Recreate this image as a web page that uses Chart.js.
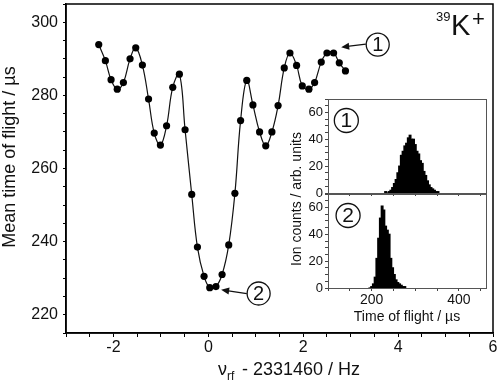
<!DOCTYPE html>
<html>
<head>
<meta charset="utf-8">
<script src="https://cdn.jsdelivr.net/npm/chart.js@4.4.0/dist/chart.umd.min.js"></script>
<style>
  html, body { margin: 0; padding: 0; background: #fff; }
  #wrap { position: relative; width: 499px; height: 382px; overflow: hidden; }
  canvas { position: absolute; }
</style>
</head>
<body>
<div id="wrap">
  <canvas id="main" width="499" height="382" style="left:0;top:0;width:499px;height:382px"></canvas>
  <canvas id="inset1" width="202" height="104" style="left:290px;top:95px;width:202px;height:104px"></canvas>
  <canvas id="inset2" width="202" height="140" style="left:290px;top:190px;width:202px;height:140px"></canvas>
</div>
<script>
// main scan: rf detuning (Hz) vs mean time of flight (us)
const freqOffset = [-2.31, -2.17, -2.05, -1.92, -1.79, -1.65, -1.53, -1.39, -1.26, -1.14,
  -1.01, -0.88, -0.75, -0.61, -0.49, -0.35, -0.23, -0.09, 0.03, 0.16,
  0.29, 0.43, 0.56, 0.68, 0.81, 0.94, 1.08, 1.21, 1.34, 1.47,
  1.60, 1.72, 1.86, 1.98, 2.12, 2.24, 2.38, 2.50, 2.64, 2.76, 2.89];
const meanTof = [293.9, 289.5, 284.3, 281.7, 283.5, 290.0, 293.0, 288.3, 279.0, 269.7,
  266.4, 271.7, 282.2, 285.8, 270.6, 252.9, 238.5, 230.5, 227.4, 227.7,
  231.0, 239.1, 253.2, 273.1, 284.1, 277.4, 270.0, 266.2, 270.0, 277.2,
  287.5, 291.6, 288.2, 282.6, 281.7, 283.5, 289.1, 291.6, 291.6, 288.9, 286.7];

// inset histograms (time of flight bins in us, counts)
const tofBins1 = [232, 236, 240, 244, 248, 252, 256, 260, 264, 268, 272, 276, 280, 284, 288, 292,
  296, 300, 304, 308, 312, 316, 320, 324, 328, 332, 336, 340, 344, 348, 352];
const counts1 = [1, 0, 1, 2, 4, 7, 10, 15, 20, 28, 31, 35, 37, 41, 43, 40,
  40, 36, 31, 29, 24, 22, 16, 13, 9, 6, 4, 3, 2, 1, 1];
const tofBins2 = [196, 200, 204, 208, 212, 216, 220, 224, 228, 232, 236, 240, 244, 248, 252, 256,
  260, 264, 268, 272, 276];
const counts2 = [0, 1, 3, 8, 22, 37, 52, 61, 58, 46, 43, 40, 22, 15, 10, 6, 4, 3, 2, 1, 1];

// tick labels
const xMajor = [-2, 0, 2, 4, 6];
const yMajor = [220, 240, 260, 280, 300];
const insetXMajor = [200, 400];
const insetYMajor = [0, 20, 40, 60];

const FONT = "'Liberation Sans', Arial, Helvetica, sans-serif";

// circled markers with arrows, in data coordinates of the main plot
const markers = [
  { label: '1', at: [3.57, 293.9], from: [3.32, 294.0], to: [2.80, 293.2] },
  { label: '2', at: [1.06, 225.8], from: [0.81, 225.8], to: [0.27, 226.8] }
];

function circled(ctx, cx, cy, r, txt, size) {
  ctx.beginPath();
  ctx.arc(cx, cy, r, 0, Math.PI * 2);
  ctx.lineWidth = 1.3;
  ctx.strokeStyle = '#111';
  ctx.stroke();
  ctx.fillStyle = '#111';
  ctx.font = size + 'px ' + FONT;
  ctx.textAlign = 'center';
  ctx.textBaseline = 'middle';
  ctx.fillText(txt, cx, cy + 1);
}

function arrow(ctx, x1, y1, x2, y2) {
  const ang = Math.atan2(y2 - y1, x2 - x1);
  ctx.beginPath();
  ctx.moveTo(x1, y1);
  ctx.lineTo(x2 - 4 * Math.cos(ang), y2 - 4 * Math.sin(ang));
  ctx.lineWidth = 1.3;
  ctx.strokeStyle = '#111';
  ctx.stroke();
  ctx.beginPath();
  ctx.moveTo(x2, y2);
  ctx.lineTo(x2 - 8 * Math.cos(ang) + 3.5 * Math.sin(ang), y2 - 8 * Math.sin(ang) - 3.5 * Math.cos(ang));
  ctx.lineTo(x2 - 8 * Math.cos(ang) - 3.5 * Math.sin(ang), y2 - 8 * Math.sin(ang) + 3.5 * Math.cos(ang));
  ctx.closePath();
  ctx.fillStyle = '#111';
  ctx.fill();
}

// drop the automatic half-label margins so the plot area sits where we want it
function noPad(s) {
  s.paddingTop = 0; s.paddingBottom = 0; s.paddingLeft = 0; s.paddingRight = 0;
}

const mainDecor = {
  id: 'mainDecor',
  afterDraw(chart) {
    const { ctx, chartArea: a, scales: { x, y } } = chart;
    ctx.save();
    // frame
    ctx.strokeStyle = '#000';
    ctx.lineWidth = 1.5;
    ctx.strokeRect(a.left, a.top, a.right - a.left, a.bottom - a.top);

    // y title
    ctx.fillStyle = '#111';
    ctx.font = '18px ' + FONT;
    ctx.textAlign = 'center';
    ctx.textBaseline = 'middle';
    ctx.save();
    ctx.translate(10, 157);
    ctx.rotate(-Math.PI / 2);
    ctx.fillText('Mean time of flight / \u00b5s', 0, 0);
    ctx.restore();

    // x title with subscript
    ctx.textAlign = 'left';
    ctx.textBaseline = 'alphabetic';
    ctx.font = '18px ' + FONT;
    ctx.fillText('\u03bd', 218, 375);
    ctx.font = '12px ' + FONT;
    ctx.fillText('rf', 227, 380);
    ctx.font = '18px ' + FONT;
    ctx.fillText(' - 2331460 / Hz', 237, 375);

    // ion label
    ctx.font = '13px ' + FONT;
    ctx.fillText('39', 436, 21);
    ctx.font = '29px ' + FONT;
    ctx.fillText('K', 451, 35);
    ctx.font = '22px ' + FONT;
    ctx.fillText('+', 472, 26);

    // markers
    markers.forEach(m => {
      circled(ctx, x.getPixelForValue(m.at[0]), y.getPixelForValue(m.at[1]), 11.5, m.label, 20);
      arrow(ctx, x.getPixelForValue(m.from[0]), y.getPixelForValue(m.from[1]),
        x.getPixelForValue(m.to[0]), y.getPixelForValue(m.to[1]));
    });

    // inset y title (spans both inset panels)
    ctx.fillStyle = '#111';
    ctx.font = '14px ' + FONT;
    ctx.textAlign = 'center';
    ctx.textBaseline = 'middle';
    ctx.translate(297, 199);
    ctx.rotate(-Math.PI / 2);
    ctx.fillText('Ion counts / arb. units', 0, 0);
    ctx.restore();
  }
};

new Chart(document.getElementById('main'), {
  type: 'line',
  data: {
    datasets: [{
      data: freqOffset.map((f, i) => ({ x: f, y: meanTof[i] })),
      borderColor: '#111',
      borderWidth: 1.2,
      tension: 0.4,
      pointRadius: 3.6,
      pointBackgroundColor: '#000',
      pointBorderWidth: 0
    }]
  },
  options: {
    responsive: false,
    animation: false,
    layout: { padding: { top: 1, right: 6, left: 0, bottom: 0 } },
    plugins: { legend: { display: false }, tooltip: { enabled: false } },
    scales: {
      x: {
        type: 'linear', min: -3, max: 6,
        afterFit(s) { s.height = 49; noPad(s); },
        grid: { drawOnChartArea: false, tickLength: 4, color: '#000', lineWidth: 1 },
        border: { color: '#000', width: 1.5 },
        ticks: {
          stepSize: 0.5, autoSkip: false, maxRotation: 0, padding: 1,
          color: '#111', font: { family: FONT, size: 16 },
          callback: v => xMajor.includes(v) ? String(v) : ''
        }
      },
      y: {
        type: 'linear', min: 215, max: 305,
        afterFit(s) { s.width = 66; noPad(s); },
        grid: { drawOnChartArea: false, tickLength: 3, color: '#000', lineWidth: 1 },
        border: { color: '#000', width: 1.5 },
        ticks: {
          stepSize: 5, autoSkip: false, padding: 5,
          color: '#111', font: { family: FONT, size: 16 },
          callback: v => yMajor.includes(v) ? String(v) : ''
        }
      }
    }
  },
  plugins: [mainDecor]
});

function insetDecor(label, showTitle) {
  return {
    id: 'insetDecor' + label,
    afterDraw(chart) {
      const { ctx, chartArea: a, scales: { x, y } } = chart;
      ctx.save();
      ctx.strokeStyle = '#555';
      ctx.lineWidth = 1;
      ctx.strokeRect(a.left + 0.5, a.top + 0.5, a.right - a.left, a.bottom - a.top);
      circled(ctx, x.getPixelForValue(label === '1' ? 142 : 146), y.getPixelForValue(54), 12, label, 21);
      if (showTitle) {
        ctx.fillStyle = '#111';
        ctx.font = '14px ' + FONT;
        ctx.textAlign = 'center';
        ctx.textBaseline = 'middle';
        ctx.fillText('Time of flight / \u00b5s', (a.left + a.right) / 2, 127);
      }
      ctx.restore();
    }
  };
}

function insetChart(id, bins, counts, label, showX) {
  return new Chart(document.getElementById(id), {
    type: 'bar',
    data: {
      datasets: [{
        data: bins.map((b, i) => ({ x: b, y: counts[i] })),
        backgroundColor: '#000',
        borderWidth: 0,
        barPercentage: 1,
        categoryPercentage: 1,
        inflateAmount: 0.6
      }]
    },
    options: {
      responsive: false,
      animation: false,
      layout: { padding: { top: 4, right: 6, left: 0, bottom: 0 } },
      plugins: { legend: { display: false }, tooltip: { enabled: false } },
      scales: {
        x: {
          type: 'linear', min: 100, max: 462, offset: false,
          afterFit(s) { s.height = showX ? 42 : 6; noPad(s); },
          grid: { drawOnChartArea: false, offset: false, tickLength: 3, color: '#444' },
          border: { color: '#555', width: 1 },
          ticks: {
            display: showX, stepSize: 50, includeBounds: false, autoSkip: false, maxRotation: 0, padding: 1,
            color: '#111', font: { family: FONT, size: 14 },
            callback: v => insetXMajor.includes(v) ? String(v) : ''
          }
        },
        y: {
          type: 'linear', min: 0, max: 70,
          afterFit(s) { s.width = 38; noPad(s); },
          grid: { drawOnChartArea: false, tickLength: 3, color: '#444' },
          border: { color: '#555', width: 1 },
          ticks: {
            stepSize: 5, autoSkip: false, padding: 2,
            color: '#111', font: { family: FONT, size: 13 },
            callback: v => insetYMajor.includes(v) ? String(v) : ''
          }
        }
      }
    },
    plugins: [insetDecor(label, showX)]
  });
}

insetChart('inset1', tofBins1, counts1, '1', false);
insetChart('inset2', tofBins2, counts2, '2', true);
</script>
</body>
</html>
